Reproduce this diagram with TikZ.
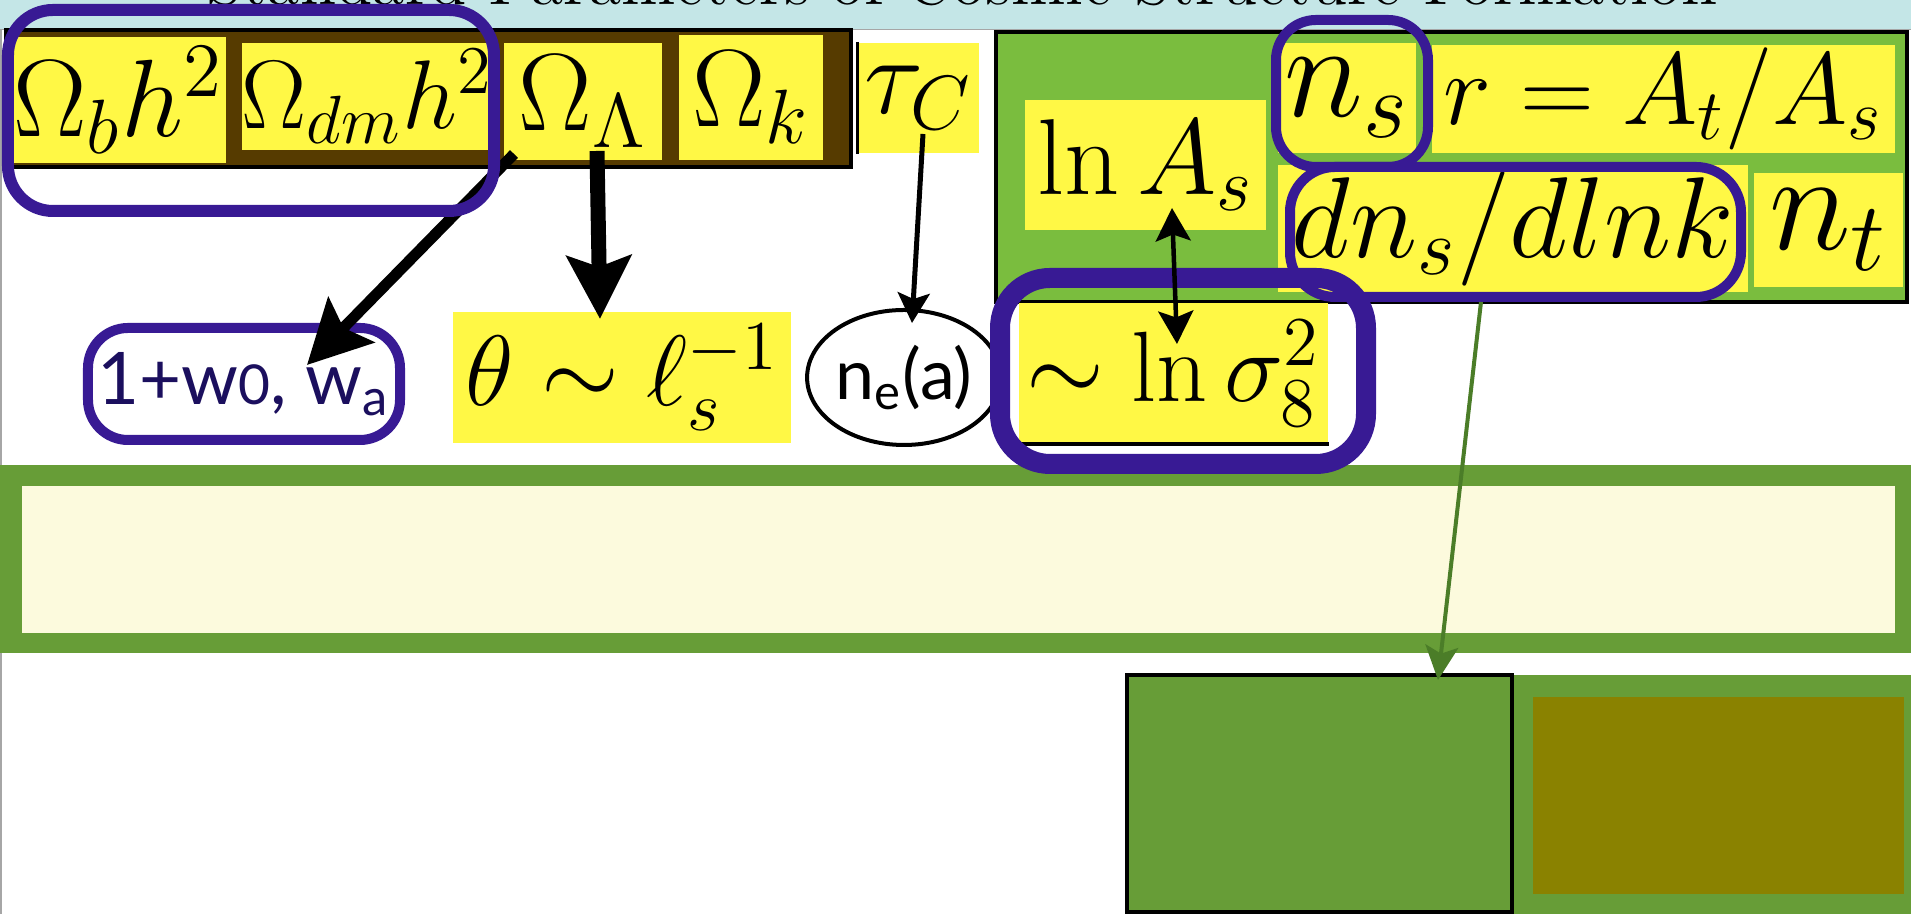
\RequirePackage{fix-cm}
\documentclass[tikz,border=0pt]{standalone}
\usepackage{fontspec}
\usepackage{xcolor}
\usepackage{tikz}
\usetikzlibrary{
  arrows.meta,
  shapes.geometric
}
\newfontfamily\slidesans{Lato}
\definecolor{SlideYellow}{HTML}{FFF845}
\definecolor{SlideBrown}{HTML}{563B00}
\definecolor{SlideLeaf}{HTML}{7ABD3E}
\definecolor{SlideMoss}{HTML}{679D37}
\definecolor{SlideCream}{HTML}{FCFADD}
\definecolor{SlideOlive}{HTML}{8A8200}
\definecolor{SlideCyan}{HTML}{C4E6E7}
\definecolor{RingPurple}{HTML}{381A94}
\definecolor{InkNavy}{HTML}{1B0F5E}
\definecolor{ArrowGreen}{HTML}{4B7D28}

\tikzset{
  ybox/.style={fill=SlideYellow,inner sep=0pt},
  ring/.style={draw=RingPurple,rounded corners=9pt,inner sep=0pt},
  heavytip/.style={-{Stealth[length=12.6pt,width=12.8pt,inset=2.2pt]}},
  lighttip/.style={-{Stealth[length=6pt,width=6.4pt,inset=1.2pt]}}
}

\begin{document}
\begin{tikzpicture}[x=0.2pt,y=-0.2pt]
  \useasboundingbox (0,0) rectangle (1911,914);
  \clip (0,0) rectangle (1911,914);
  \fill[white] (0,0) rectangle (1911,914);
  % title strip, cut off at the top
  \fill[SlideCyan] (0,0) rectangle (1911,29.5);
  \node[anchor=base,inner sep=0pt,font=\fontsize{13.3}{16}\selectfont] (title) at (962,5)
    {Standard Parameters of Cosmic Structure Formation};
  \draw[gray!70,line width=0.3pt] (0,29.5) -- (1911,29.5);
  \draw[gray!70,line width=0.4pt] (1,30) -- (1,914);

  % density parameters
  \node[fill=SlideBrown,draw=black,line width=0.7pt,minimum width=169pt,minimum height=27.4pt] (ombar) at (428.5,98.5) {};
  \node[ybox,minimum width=43pt,minimum height=25.2pt,font=\fontsize{22}{26}\selectfont] (omb) at (118.5,100) {$\Omega_b h^2$};
  \node[ybox,minimum width=49pt,minimum height=21.4pt,font=\fontsize{19.5}{24}\selectfont] (omdm) at (367.5,96.5) {$\Omega_{dm} h^2$};
  \node[ybox,minimum width=31.6pt,minimum height=23.4pt,font=\fontsize{22}{26}\selectfont] (omL) at (583,101.5) {$\Omega_\Lambda$};
  \node[ybox,minimum width=28.8pt,minimum height=25pt,font=\fontsize{22}{26}\selectfont] (omk) at (751,97.5) {$\Omega_k$};
  \node[ybox,minimum width=24.2pt,minimum height=22pt,font=\fontsize{22}{26}\selectfont] (tauc) at (918.5,98) {$\tau_C$};
  \draw[line width=0.6pt] (tauc.north west) -- (tauc.south west);

  % primordial spectrum
  \node[fill=SlideLeaf,draw=black,line width=0.8pt,minimum width=182.2pt,minimum height=54pt] (inflbox) at (1451.5,167) {};
  \node[ybox,minimum width=48.2pt,minimum height=26pt,font=\fontsize{21.6}{26}\selectfont] (lnAs) at (1145.5,165) {$\ln A_s$};
  \node[ybox,minimum width=27.6pt,minimum height=22pt,font=\fontsize{27}{32}\selectfont] (ns) at (1347,98) {$n_s$};
  \node[ybox,minimum width=92.6pt,minimum height=21.6pt,font=\fontsize{20.5}{24}\selectfont] (ratio) at (1663.5,99) {$r = A_t/A_s$};
  \node[ybox,minimum width=94pt,minimum height=25.4pt,font=\fontsize{23}{27}\selectfont] (dns) at (1513,228.5) {$dn_s/dlnk$};
  \node[ybox,minimum width=29.8pt,minimum height=22.8pt,font=\fontsize{28}{32}\selectfont] (nt) at (1828.5,230) {$n_t$};

  % derived quantities
  \node[ybox,minimum width=67.6pt,minimum height=26.2pt,font=\fontsize{20}{24}\selectfont] (theta) at (622,377.5) {$\theta \sim \ell_s^{-1}$};
  \node[ellipse,draw=black,fill=white,line width=0.8pt,inner sep=0pt,minimum width=35.6pt,minimum height=27pt,
        font=\slidesans\fontsize{14}{17}\selectfont] (ne) at (904,377.5) {n\textsubscript{e}(a)};
  \node[ybox,minimum width=61.8pt,minimum height=28pt,font=\fontsize{20}{24}\selectfont] (sig8) at (1173.5,373) {$\sim\ln\sigma_8^2$};
  \draw[line width=0.7pt] (sig8.south west) -- (sig8.south east);

  % band and lower panels
  \node[fill=SlideMoss,minimum width=382.2pt,minimum height=37.6pt,inner sep=0pt] (band) at (955.5,559) {};
  \node[fill=SlideCream,minimum width=374.6pt,minimum height=29.4pt,inner sep=0pt] (bandin) at (958.5,559.5) {};
  \node[fill=SlideMoss,minimum width=79.4pt,minimum height=47.8pt,inner sep=0pt] (panelB) at (1712.5,794.5) {};
  \node[fill=SlideOlive,minimum width=74.2pt,minimum height=39.4pt,inner sep=0pt] (panelBin) at (1718.5,795.5) {};
  \node[fill=SlideMoss,draw=black,line width=0.8pt,minimum width=77pt,minimum height=47.4pt,inner sep=0pt] (panelA) at (1319.5,793.5) {};

  \node[ring,fill=white,line width=2pt,rounded corners=8pt,minimum width=62.4pt,minimum height=22.4pt,
        text=InkNavy,font=\slidesans\fontsize{14.5}{17}\selectfont] (wde) at (244,384)
    {1+w{\fontsize{11}{13}\selectfont 0}, w\textsubscript{a}};

  \draw[heavytip,line width=2.2pt] ([xshift=2.2pt,yshift=1.4pt]omL.south west) -- ([xshift=12.6pt,yshift=-8.4pt]wde.north);
  \draw[heavytip,line width=3pt] ([xshift=2.8pt,yshift=2pt]omL.south) -- ([xshift=-4.4pt,yshift=-1.6pt]theta.north);
  \draw[lighttip,line width=1pt] ([xshift=0.9pt,yshift=4pt]tauc.south) -- ([xshift=1.6pt,yshift=-3pt]ne.north);

  % groupings
  \node[ring,line width=2.4pt,minimum width=97.2pt,minimum height=40.2pt] (omring) at (251,110.5) {};
  \node[ring,line width=2pt,rounded corners=8pt,minimum width=30.4pt,minimum height=29.4pt] (nsring) at (1352,93.5) {};
  \node[ring,line width=2pt,minimum width=90.2pt,minimum height=26pt] (dnsring) at (1515.5,232) {};
  \node[ring,line width=4pt,rounded corners=10pt,minimum width=73.2pt,minimum height=37.2pt] (sig8ring) at (1183,371) {};

  \draw[{Stealth[length=6.6pt,width=7pt,inset=1.3pt]}-{Stealth[length=6.6pt,width=7pt,inset=1.3pt]},line width=0.9pt]
    ([xshift=5.3pt,yshift=4.6pt]lnAs.south) -- ([xshift=0.7pt,yshift=-8.4pt]sig8.north);
  \draw[-{Stealth[length=6.8pt,width=6.6pt,inset=1.5pt]},draw=ArrowGreen,fill=ArrowGreen,line width=0.8pt]
    ([xshift=-6.9pt]dnsring.south) -- ([xshift=23.7pt,yshift=-1.4pt]panelA.north);
\end{tikzpicture}
\end{document}
